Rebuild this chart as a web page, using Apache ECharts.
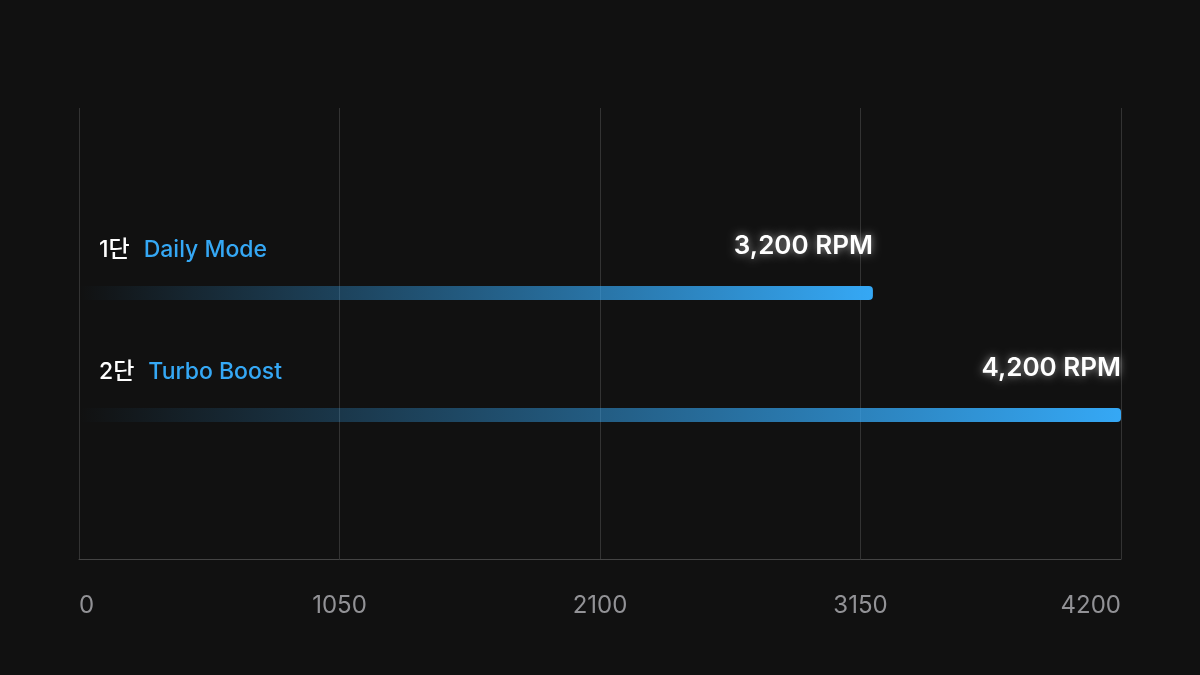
<!DOCTYPE html>
<html>
<head>
<meta charset="utf-8">
<style>
  html, body { margin: 0; padding: 0; background: #111111; }
  #chart { width: 1200px; height: 675px; }
</style>
<script src="https://cdn.jsdelivr.net/npm/echarts@6/dist/echarts.min.js"></script>
</head>
<body>
<div id="chart"></div>
<script>
var stages = ['1단', '2단'];
var modes = ['Daily Mode', 'Turbo Boost'];
var rpmValues = [3200, 4200];
var axisMax = 4200;
var axisStep = 1050;

var FONT = 'Inter, "Noto Sans CJK KR", sans-serif';
var BLUE = '#35a8f5';

var chart = echarts.init(document.getElementById('chart'), null, { renderer: 'canvas' });

function formatRpm(value) {
    return value.toLocaleString('en-US') + ' RPM';
}

chart.setOption({
    backgroundColor: '#111111',
    animation: false,
    grid: [
        { left: 79, right: 79, top: 108, bottom: 116 },
        { left: 79, right: 79, top: 232, bottom: 199 }
    ],
    xAxis: [
        {
            gridIndex: 0,
            type: 'value',
            min: 0,
            max: axisMax,
            interval: axisStep,
            axisLine: { show: true, lineStyle: { color: '#444444', width: 1 } },
            axisTick: { show: false },
            splitLine: { show: true, lineStyle: { color: '#333333', width: 1 } },
            axisLabel: {
                color: '#929296',
                fontFamily: FONT,
                fontSize: 24,
                margin: 35,
                alignMinLabel: 'left',
                alignMaxLabel: 'right',
                formatter: function (value) {
                    return String(value);
                }
            }
        },
        {
            gridIndex: 1,
            type: 'value',
            min: 0,
            max: axisMax,
            show: false
        }
    ],
    yAxis: [
        {
            gridIndex: 0,
            type: 'category',
            data: stages,
            show: false
        },
        {
            gridIndex: 1,
            type: 'category',
            data: stages,
            inverse: true,
            axisLine: { show: false },
            axisTick: { show: false },
            axisLabel: {
                inside: true,
                margin: 20,
                padding: [0, 0, 86, 0],
                formatter: function (value, index) {
                    return '{n|' + value + '}{t|' + modes[index] + '}';
                },
                rich: {
                    n: { color: '#ffffff', fontFamily: FONT, fontSize: 23, fontWeight: 500, padding: [0, 14, 0, 0] },
                    t: { color: BLUE, fontFamily: FONT, fontSize: 23, fontWeight: 500 }
                }
            }
        }
    ],
    series: [{
        type: 'bar',
        xAxisIndex: 1,
        yAxisIndex: 1,
        data: rpmValues,
        barWidth: 14,
        itemStyle: {
            borderRadius: 4,
            color: new echarts.graphic.LinearGradient(0, 0, 1, 0, [
                { offset: 0, color: 'rgba(53,168,245,0)' },
                { offset: 1, color: 'rgba(53,168,245,1)' }
            ])
        },
        label: {
            show: true,
            position: ['100%', -40],
            align: 'right',
            verticalAlign: 'middle',
            color: '#ffffff',
            fontFamily: FONT,
            fontSize: 26,
            fontWeight: 600,
            textShadowColor: 'rgba(255,255,255,0.6)',
            textShadowBlur: 9,
            formatter: function (p) {
                return formatRpm(p.value);
            }
        }
    }]
});
</script>
</body>
</html>
